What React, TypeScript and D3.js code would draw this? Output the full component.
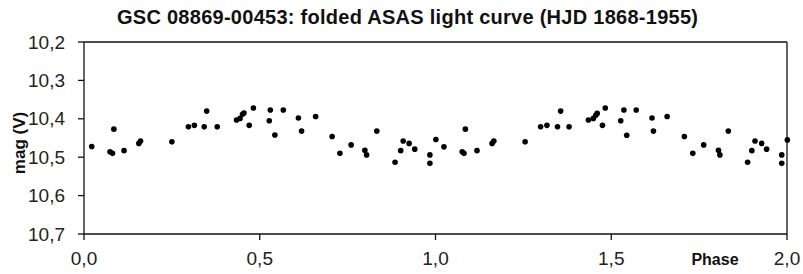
import React from "react";
import * as d3 from "d3";

// folded ASAS light curve, two cycles
const cycle1Phase = [
  0.022, 0.074, 0.081, 0.085, 0.114, 0.156, 0.161, 0.25, 0.297, 0.314,
  0.342, 0.349, 0.379, 0.434, 0.444, 0.451, 0.455, 0.47, 0.482, 0.527,
  0.53, 0.543, 0.567, 0.61, 0.619, 0.659, 0.706, 0.728, 0.76, 0.799,
  0.804, 0.833, 0.885, 0.901, 0.908, 0.925, 0.941, 0.984, 0.984, 1.001,
];
const cycle1Mag = [
  10.472, 10.486, 10.49, 10.427, 10.483, 10.464, 10.458, 10.46, 10.421, 10.417,
  10.421, 10.38, 10.421, 10.403, 10.399, 10.388, 10.385, 10.417, 10.372, 10.405,
  10.377, 10.442, 10.377, 10.398, 10.432, 10.394, 10.446, 10.49, 10.468, 10.482,
  10.494, 10.432, 10.513, 10.483, 10.458, 10.464, 10.479, 10.494, 10.516, 10.454,
];
const cycle2Phase = [
  1.024, 1.076, 1.081, 1.085, 1.118, 1.161, 1.166, 1.255, 1.299, 1.317,
  1.347, 1.356, 1.38, 1.435, 1.449, 1.456, 1.46, 1.475, 1.483, 1.527,
  1.536, 1.544, 1.571, 1.616, 1.62, 1.659, 1.708, 1.732, 1.763, 1.805,
  1.809, 1.833, 1.888, 1.9, 1.909, 1.928, 1.942, 1.985, 1.985, 2.001,
];
const cycle2Mag = [
  10.473, 10.486, 10.49, 10.427, 10.483, 10.464, 10.458, 10.46, 10.421, 10.417,
  10.421, 10.38, 10.421, 10.403, 10.399, 10.391, 10.386, 10.417, 10.372, 10.405,
  10.377, 10.443, 10.377, 10.398, 10.432, 10.394, 10.446, 10.49, 10.468, 10.482,
  10.494, 10.432, 10.513, 10.483, 10.458, 10.464, 10.479, 10.494, 10.516, 10.455,
];
const xTicks = [0, 0.5, 1, 1.5, 2];
const yTicks = [10.2, 10.3, 10.4, 10.5, 10.6, 10.7];

const title = "GSC 08869-00453: folded ASAS light curve (HJD 1868-1955)";

const width = 803;
const height = 274;
const left = 84;
const right = 787;
const top = 42;
const bottom = 234;

const fmt = (v: number) => d3.format(".1f")(v).replace(".", ",");

export default function App() {
  const x = d3.scaleLinear().domain([0, 2]).range([left, right]);
  const y = d3.scaleLinear().domain([10.2, 10.7]).range([top, bottom]);

  const points = [
    ...cycle1Phase.map((p, i) => ({ p, m: cycle1Mag[i] })),
    ...cycle2Phase.map((p, i) => ({ p, m: cycle2Mag[i] })),
  ];

  const font = "'Liberation Sans', Arial, sans-serif";

  return (
    <div style={{ position: "fixed", left: 0, top: 0 }}>
      <svg width={width} height={height} style={{ display: "block", background: "#fff" }}>
        <text
          x={117}
          y={24}
          textLength={581}
          lengthAdjust="spacing"
          fontFamily={font}
          fontWeight="bold"
          fontSize={20}
          fill="#111"
        >
          {title}
        </text>

        {/* frame */}
        <g stroke="#111" strokeWidth={1.3} fill="none">
          <line x1={left} y1={top} x2={right} y2={top} />
          <line x1={right} y1={top} x2={right} y2={bottom} />
          <line x1={left} y1={top} x2={left} y2={bottom} />
          <line x1={left} y1={bottom} x2={right} y2={bottom} />
          {yTicks.map((t) => (
            <line key={t} x1={left - 6} x2={left} y1={y(t)} y2={y(t)} />
          ))}
          {xTicks.map((t) => (
            <line key={t} x1={x(t)} x2={x(t)} y1={bottom} y2={bottom + 6} />
          ))}
        </g>

        {/* y axis labels */}
        {yTicks.map((t) => (
          <text
            key={t}
            x={65}
            y={y(t)}
            dy="0.35em"
            textAnchor="end"
            fontFamily={font}
            fontSize={19}
            fill="#222"
          >
            {fmt(t)}
          </text>
        ))}

        {/* x axis labels */}
        {xTicks.map((t) => (
          <text
            key={t}
            x={x(t)}
            y={265}
            textAnchor="middle"
            fontFamily={font}
            fontSize={19}
            fill="#222"
          >
            {fmt(t)}
          </text>
        ))}

        <text
          x={715}
          y={265}
          textAnchor="middle"
          fontFamily={font}
          fontWeight="bold"
          fontSize={16}
          fill="#111"
        >
          Phase
        </text>
        <text
          transform={`translate(25,${(top + bottom) / 2 + 5}) rotate(-90)`}
          textAnchor="middle"
          fontFamily={font}
          fontWeight="bold"
          fontSize={17}
          fill="#111"
        >
          mag (V)
        </text>

        {points.map((d, i) => (
          <circle key={i} cx={x(d.p)} cy={y(d.m)} r={2.8} fill="#000" />
        ))}
      </svg>
    </div>
  );
}
